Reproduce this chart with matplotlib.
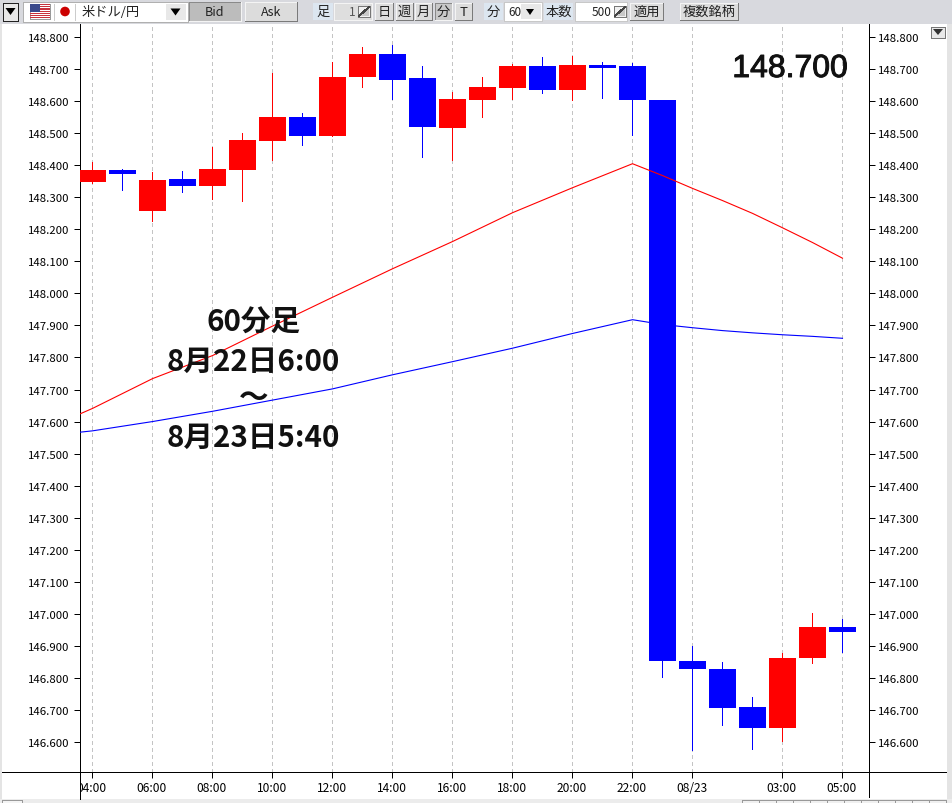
import matplotlib
matplotlib.use("Agg")
import matplotlib.pyplot as plt
from matplotlib.patches import Rectangle, Circle, Polygon
from matplotlib import patheffects as pe
from matplotlib.transforms import Bbox, blended_transform_factory

JP = ['Noto Sans CJK JP', 'DejaVu Sans']
plt.rcParams['font.family'] = JP

# ---- data (USD/JPY 60 minute candles) ----
candle_index = list(range(26))
opens  = [148.347,148.384,148.257,148.356,148.335,148.385,148.475,148.552,148.491,148.675,148.749,148.674,148.516,148.603,148.641,148.709,148.635,148.712,148.709,148.603,146.854,146.829,146.710,146.643,146.861,146.960]
closes = [148.384,148.374,148.353,148.335,148.387,148.478,148.552,148.491,148.677,148.749,148.666,148.519,148.606,148.643,148.709,148.635,148.712,148.705,148.603,146.852,146.827,146.705,146.643,146.863,146.960,146.942]
highs  = [148.409,148.387,148.378,148.381,148.457,148.502,148.687,148.562,148.722,148.768,148.777,148.709,148.628,148.677,148.715,148.737,148.740,148.724,148.721,148.603,146.898,146.848,146.739,146.876,147.001,146.985]
lows   = [148.343,148.321,148.222,148.314,148.293,148.285,148.413,148.460,148.488,148.641,148.603,148.424,148.412,148.547,148.603,148.622,148.600,148.606,148.493,146.799,146.571,146.649,146.574,146.601,146.843,146.877]
candle_colors = ['red','blue','red','blue','red','red','red','blue','red','red','blue','blue','red','red','red','blue','red','blue','blue','blue','blue','blue','blue','red','red','blue']

ma_index = [-1,0,2,4,6,8,10,12,14,16,18,19,20,21,22,23,24,25]
ma_red  = [147.600,147.641,147.734,147.806,147.898,147.988,148.077,148.162,148.252,148.330,148.405,148.368,148.328,148.290,148.250,148.205,148.159,148.110]
ma_blue = [147.561,147.571,147.600,147.632,147.667,147.702,147.746,147.787,147.829,147.875,147.918,147.903,147.893,147.884,147.877,147.871,147.866,147.860]

y_ticks = [146.6,146.7,146.8,146.9,147.0,147.1,147.2,147.3,147.4,147.5,147.6,147.7,147.8,147.9,148.0,148.1,148.2,148.3,148.4,148.5,148.6,148.7,148.8]
x_ticks = [0,2,4,6,8,10,12,14,16,18,20,23,25]
x_labels = ['04:00','06:00','08:00','10:00','12:00','14:00','16:00','18:00','20:00','22:00','08/23','03:00','05:00']
price_label = '148.700'
note_lines = ['60分足','8月22日6:00','〜','8月23日5:40']
toolbar_labels = ['足','日','週','月','分','T']

W, H = 952, 804
fig = plt.figure(figsize=(W/100, H/100), dpi=100, facecolor='white')

# window chrome, in pixel coordinates
ui = fig.add_axes([0,0,1,1], zorder=0)
ui.set_xlim(0,W); ui.set_ylim(H,0); ui.axis('off')

PX = 0.72
def rect(x0,y0,x1,y1,fc,ec='none',lw=PX):
    ui.add_patch(Rectangle((x0,y0),x1-x0,y1-y0,fc=fc,ec=ec,lw=lw,antialiased=False))
def button(x0,y0,x1,y1,fc='#dcdcdc',label=None,fs=9.5,pressed=False):
    rect(x0,y0,x1,y1,fc)
    lo, hi = ('#8a8a8a','#f4f4f4') if pressed else ('#f4f4f4','#7a7a7a')
    ui.plot([x0,x1,x1],[y0,y0,y1],color=lo,lw=PX,antialiased=False)
    ui.plot([x0,x0,x1],[y0,y1,y1],color=lo,lw=PX,antialiased=False)
    ui.plot([x1,x1,x0],[y0,y1,y1],color=hi,lw=PX,antialiased=False)
    if label:
        ui.text((x0+x1)/2,(y0+y1)/2,label,ha='center',va='center',fontsize=fs,color='#222222')
def tri(cx,cy,w=5,h=3.5,c='black'):
    ui.add_patch(Polygon([(cx-w,cy-h),(cx+w,cy-h),(cx,cy+h)],fc=c,ec='none'))
def spin(x0,x1,y0,y1):
    rect(x0,y0,x1,y1,'#f0f0f0','#777777')
    ui.add_patch(Polygon([(x0+1,y1-1),(x1-1,y0+1),(x1-1,y1-1)],fc='#c8c8c8',ec='none'))
    ui.plot([x0+1,x1-1],[y1-1,y0+1],color='#444444',lw=PX,antialiased=False)

rect(0,0,W,25,'#d8d9de')
rect(0,0,W,1,'#777777')
rect(0,25,2,H,'#e4e4e4')
rect(947,25,W,H,'#e4e4e4')
rect(0,800,W,H,'#ececec')

# left arrow button and symbol box
rect(3,4,18,22,'#e8e8e8','#222222')
tri(10.5,12.5)
rect(23,3,188,23,'white','#b0b0b0')
rect(30,5,50,20,'white','#999999')
for k in range(0,7):
    rect(30,5+k*2.2,50,6.1+k*2.2,'#c8323c')
rect(30,5,40,13,'#3a4a8c')
ui.add_patch(Circle((65,12.5),4.8,fc='#cc0000',ec='none'))
ui.plot([54,54],[5,21],color='#cccccc',lw=PX)
ui.plot([75,75],[5,21],color='#cccccc',lw=PX)
ui.text(82,12,'米ドル/円',ha='left',va='center',fontsize=9.5,color='#222222')
rect(166,5,186,21,'#e8e8e8')
tri(175.5,13)

button(189,3,241,22,'#bcbcbc','Bid',9,pressed=True)
button(245,3,297,22,'#dcdcdc','Ask',9)

rect(313,4,333,21,'#dce6f0')
ui.text(323,12.5,toolbar_labels[0],ha='center',va='center',fontsize=9.5,color='#222222')
rect(334,4,372,21,'#dedede','#f4f4f4')
ui.text(356,12.5,'1',ha='right',va='center',fontsize=8.5,color='#555555')
spin(358,370,7,18)
button(375,4,393,21,'#dcdcdc',toolbar_labels[1])
button(396,4,413,21,'#dcdcdc',toolbar_labels[2])
button(415,4,432,21,'#dcdcdc',toolbar_labels[3])
button(435,4,452,21,'#c8c8c8',toolbar_labels[4],pressed=True)
button(455,4,472,21,'#dcdcdc',toolbar_labels[5])

rect(484,4,503,21,'#dce6f0')
ui.text(493,12.5,'分',ha='center',va='center',fontsize=9.5,color='#222222')
rect(504,3,542,22,'white','#c8c8c8')
ui.text(508,12.5,'60',ha='left',va='center',fontsize=8.5,color='#222222')
rect(521,5,541,20,'#e8e8e8')
tri(530,13,w=4,h=3)
rect(544,4,573,21,'#dce6f0')
ui.text(558.5,12.5,'本数',ha='center',va='center',fontsize=9.5,color='#222222')
rect(575,3,627,22,'white','#c8c8c8')
ui.text(612,12.5,'500',ha='right',va='center',fontsize=8.5,color='#222222')
spin(614,626,7,18)
button(630,4,663,21,'#dcdcdc','適用')
button(680,4,738,21,'#dcdcdc','複数銘柄')

# chart frame lines
for xs, ys in [([79.5,79.5],[25,800]),([868.5,868.5],[25,798]),([2,946],[772.5,772.5])]:
    ui.plot(xs,ys,color='black',lw=PX,antialiased=False)

# small menu triangle at the right
rect(931,28,945,39,'#e8e8e8','#777777')
tri(938,33,w=5,h=3,c='#333333')

# bottom strip cells
rect(2,801,22,H,'#f4f4f4','#999999')
for k in range(12):
    rect(742+k*17,801,759+k*17,H,'#f0f0f0','#999999')

# ---- price chart ----
ax = fig.add_axes([79.5/W, 1-772.5/H, (868.5-79.5)/W, (772.5-25)/H], zorder=1)
ax.patch.set_alpha(0)
px_per_unit = 320.3
ax.set_xlim((79.5-92.5)/30, (868.5-92.5)/30)
ax.set_ylim(148.8-(772.5-38.2)/px_per_unit, 148.8+(38.2-25)/px_per_unit)
for s in ax.spines.values():
    s.set_visible(False)

# a small nudge keeps the 1 px grid and ticks on the same pixel column as the wicks
tick_positions = [t-0.01 for t in x_ticks]
ax.vlines(tick_positions, *ax.get_ylim(), colors='#c4c4c4', linewidth=PX, linestyles=(0,(3,3)), antialiased=False, zorder=1)

# wicks as 1 px wide bars, bodies 27 px wide
wick_heights = [h-l for h,l in zip(highs,lows)]
ax.bar(candle_index, wick_heights, bottom=lows, width=1/30, color=candle_colors, linewidth=0, antialiased=False, zorder=2)
bottoms = [min(o,c) for o,c in zip(opens,closes)]
heights = [abs(o-c) for o,c in zip(opens,closes)]
ax.bar(candle_index, heights, bottom=bottoms, width=0.9, color=candle_colors, linewidth=0, antialiased=False, zorder=3)

ax.plot(ma_index, ma_red, color='red', lw=0.8, zorder=4)
ax.plot(ma_index, ma_blue, color='blue', lw=0.8, zorder=4)

ax.set_yticks(y_ticks)
ax.set_yticklabels([f'{v:.3f}' for v in y_ticks])
ax.tick_params(axis='y', which='major', left=True, right=True, labelleft=True, labelright=True,
               length=4.6, width=PX, pad=2.5, labelsize=8.2, colors='black')
ax.set_xticks(tick_positions)
ax.tick_params(axis='x', length=4.6, width=PX, labelbottom=False)

# time labels share one baseline; the first is cut off by the frame, as in the window
time_trans = blended_transform_factory(ax.transData, ui.transData)
for pos, lab in zip(x_ticks, x_labels):
    t = ax.text(pos-0.03, 792, lab, transform=time_trans, ha='center', va='baseline',
                fontsize=8.6, color='black', clip_on=False)
    if lab == x_labels[0]:
        t.set_clip_box(Bbox([[81, 0],[200, 60]]))
        t.set_clip_on(True)

# ---- overlaid texts ----
ax.text(790, 78, price_label, transform=ui.transData, ha='center', va='baseline',
        fontsize=23, family='Liberation Sans', color='#111111',
        path_effects=[pe.withStroke(linewidth=0.7, foreground='#111111')], zorder=6)
note_baselines = [331.5, 370.5, None, 447]
for s, y in zip(note_lines, note_baselines):
    if y is None:
        ax.text(253.5, 398, s, transform=ui.transData, ha='center', va='center', fontsize=21.3,
                fontweight='bold', family=JP, color='#111111', zorder=6, clip_on=False)
    else:
        ax.text(253.5, y, s, transform=ui.transData, ha='center', va='baseline', fontsize=21.3,
                fontweight='bold', family=JP, color='#111111', zorder=6, clip_on=False)

fig.savefig('out.png', dpi=100)
